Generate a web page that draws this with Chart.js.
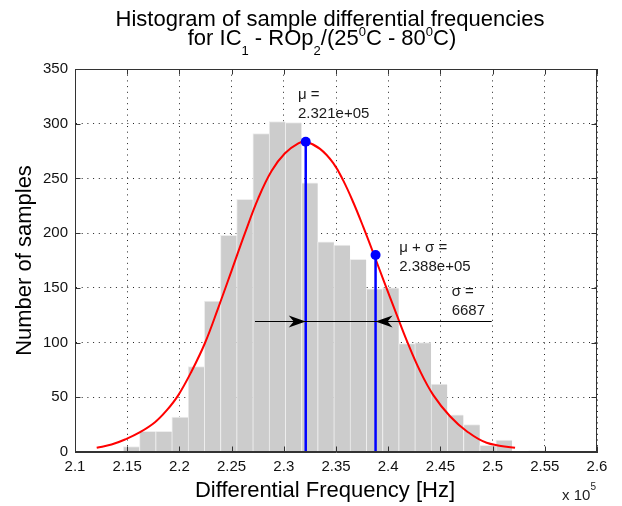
<!DOCTYPE html>
<html>
<head>
<meta charset="utf-8">
<script src="https://cdn.jsdelivr.net/npm/chart.js@4.4.0/dist/chart.umd.min.js"></script>
<style>
  html, body { margin: 0; padding: 0; background: #fff; }
</style>
</head>
<body>
<canvas id="histChart" width="622" height="506"></canvas>
<script>
// x values are in units of 1e5 Hz (axis shows "x 10^5")
const binCenters = [2.1540, 2.1695, 2.1850, 2.2005, 2.2161, 2.2316, 2.2471, 2.2626, 2.2781, 2.2937,
                    2.3092, 2.3247, 2.3402, 2.3557, 2.3712, 2.3868, 2.4023, 2.4178, 2.4333, 2.4488,
                    2.4643, 2.4799, 2.4954, 2.5109, 2.5264, 2.5419];
const binCounts = [5, 19, 19, 32, 78, 138, 198, 231, 291, 302,
                   301, 246, 192, 189, 176, 149, 150, 99, 100, 62,
                   34, 25, 6, 11, 0, 1];

// fitted normal curve
const curveX = [2.1208, 2.1350, 2.1479, 2.1623, 2.1766, 2.1878, 2.1990, 2.2118, 2.2245, 2.2373,
                2.2501, 2.2628, 2.2756, 2.2884, 2.3011, 2.3139, 2.3210, 2.3347, 2.3474, 2.3570,
                2.3666, 2.3762, 2.3864, 2.3953, 2.4081, 2.4177, 2.4305, 2.4432, 2.4592, 2.4752,
                2.4943, 2.5215];
const curveY = [3.8, 6.8, 11.4, 18.1, 27.2, 38, 52, 74, 99.6, 132,
                166, 200, 232, 257, 273, 282, 283.5, 277, 264, 248,
                228, 205.5, 180.2, 157.5, 125.5, 102, 74, 52, 32.7, 19,
                8.4, 3.8];

const meanX = 2.321, meanY = 283.5;
const sigmaX = 2.3879, sigmaY = 180;
const arrowY = 120, arrowFrom = 2.2724, arrowTo = 2.4991;

const xTickLabels = ['2.1', '2.15', '2.2', '2.25', '2.3', '2.35', '2.4', '2.45', '2.5', '2.55', '2.6'];
const yTickLabels = ['0', '50', '100', '150', '200', '250', '300', '350'];

// text notes: anchor = left edge / baseline of the last line
const notes = [
  { x: 2.3136, y: 305, lines: ['\u03bc =', '2.321e+05'] },
  { x: 2.4106, y: 165, lines: ['\u03bc + \u03c3 =', '2.388e+05'] },
  { x: 2.4608, y: 125.5, lines: ['\u03c3 =', '6687'] }
];

const FONT = "'Liberation Sans', Arial, Helvetica, sans-serif";

function drawRuns(ctx, runs, cx, baseline) {
  const widths = runs.map(r => {
    ctx.font = `${r.size}px ${FONT}`;
    return ctx.measureText(r.text).width;
  });
  let x = cx - widths.reduce((s, w) => s + w, 0) / 2;
  runs.forEach((r, i) => {
    ctx.font = `${r.size}px ${FONT}`;
    ctx.fillText(r.text, x, baseline + (r.shift || 0));
    x += widths[i];
  });
}

function drawHead(ctx, tipX, tipY, dir) {
  ctx.beginPath();
  ctx.moveTo(tipX, tipY);
  ctx.lineTo(tipX - dir * 17, tipY - 6);
  ctx.lineTo(tipX - dir * 12, tipY);
  ctx.lineTo(tipX - dir * 17, tipY + 6);
  ctx.closePath();
  ctx.fill();
}

const decorPlugin = {
  id: 'decor',
  afterDatasetsDraw(chart) {
    const { ctx, chartArea: a, scales: { x, y } } = chart;
    ctx.save();

    // sigma arrow
    const ay = Math.round(y.getPixelForValue(arrowY)) + 0.5;
    ctx.strokeStyle = '#000';
    ctx.fillStyle = '#000';
    ctx.lineWidth = 1.2;
    ctx.beginPath();
    ctx.moveTo(x.getPixelForValue(arrowFrom), ay);
    ctx.lineTo(x.getPixelForValue(arrowTo), ay);
    ctx.stroke();
    drawHead(ctx, x.getPixelForValue(meanX), ay, 1);
    drawHead(ctx, x.getPixelForValue(sigmaX), ay, -1);

    // notes
    ctx.fillStyle = '#1a1a1a';
    ctx.font = `15px ${FONT}`;
    ctx.textAlign = 'left';
    ctx.textBaseline = 'alphabetic';
    notes.forEach(n => {
      const px = x.getPixelForValue(n.x);
      const py = y.getPixelForValue(n.y);
      n.lines.forEach((t, i) => ctx.fillText(t, px, py - (n.lines.length - 1 - i) * 19));
    });

    // box and inward tick marks
    const L = Math.round(a.left) + 0.5, R = Math.round(a.right) - 0.5;
    const T = Math.round(a.top) + 0.5, B = Math.round(a.bottom) - 0.5;
    ctx.strokeStyle = '#333';
    ctx.lineWidth = 1;
    ctx.strokeRect(L, T, R - L, B - T);
    ctx.beginPath();
    x.ticks.forEach(t => {
      const px = Math.round(x.getPixelForValue(t.value)) + 0.5;
      ctx.moveTo(px, B); ctx.lineTo(px, B - 5);
      ctx.moveTo(px, T); ctx.lineTo(px, T + 5);
    });
    y.ticks.forEach(t => {
      const py = Math.round(y.getPixelForValue(t.value)) + 0.5;
      ctx.moveTo(L, py); ctx.lineTo(L + 5, py);
      ctx.moveTo(R, py); ctx.lineTo(R - 5, py);
    });
    ctx.stroke();
    ctx.restore();
  },
  afterDraw(chart) {
    const { ctx } = chart;
    ctx.save();
    ctx.fillStyle = '#000';
    ctx.textAlign = 'left';
    ctx.textBaseline = 'alphabetic';

    // title with sub/superscripts
    drawRuns(ctx, [{ text: 'Histogram of sample differential frequencies', size: 22 }], 330, 26);
    drawRuns(ctx, [
      { text: 'for IC', size: 22 },
      { text: '1', size: 13, shift: 10 },
      { text: ' - ROp', size: 22 },
      { text: '2', size: 13, shift: 10 },
      { text: '/(25', size: 22 },
      { text: '0', size: 13, shift: -9 },
      { text: 'C - 80', size: 22 },
      { text: '0', size: 13, shift: -9 },
      { text: 'C)', size: 22 }
    ], 322, 45);

    // x axis label and exponent
    drawRuns(ctx, [{ text: 'Differential Frequency [Hz]', size: 22 }], 325, 497);
    ctx.fillStyle = '#222';
    drawRuns(ctx, [{ text: 'x 10', size: 15 }, { text: '5', size: 10, shift: -10 }], 579, 500);
    ctx.restore();
  }
};

const ctx = document.getElementById('histChart');

new Chart(ctx, {
  type: 'bar',
  data: {
    datasets: [
      {
        type: 'line',
        label: 'mean',
        data: [{ x: meanX, y: 0 }, { x: meanX, y: meanY }],
        borderColor: '#0000ff',
        backgroundColor: '#0000ff',
        borderWidth: 2.5,
        pointRadius: [0, 5],
        pointBorderWidth: 0,
        order: 0
      },
      {
        type: 'line',
        label: 'mean + sigma',
        data: [{ x: sigmaX, y: 0 }, { x: sigmaX, y: sigmaY }],
        borderColor: '#0000ff',
        backgroundColor: '#0000ff',
        borderWidth: 2.5,
        pointRadius: [0, 5],
        pointBorderWidth: 0,
        order: 0
      },
      {
        type: 'line',
        label: 'normal fit',
        data: curveX.map((v, i) => ({ x: v, y: curveY[i] })),
        borderColor: '#ff0000',
        borderWidth: 2,
        pointRadius: 0,
        tension: 0.4,
        order: 1
      },
      {
        type: 'bar',
        label: 'samples',
        data: binCenters.map((v, i) => ({ x: v, y: binCounts[i] })),
        backgroundColor: '#cccccc',
        borderColor: '#eeeeee',
        borderWidth: { top: 1, left: 1, right: 0, bottom: 0 },
        borderSkipped: false,
        barPercentage: 1,
        categoryPercentage: 1,
        grouped: false,
        order: 2
      }
    ]
  },
  options: {
    responsive: false,
    devicePixelRatio: 1,
    animation: false,
    layout: { padding: { top: 69, right: 25, left: 0, bottom: 0 } },
    plugins: {
      legend: { display: false },
      tooltip: { enabled: false },
      title: { display: false }
    },
    scales: {
      x: {
        type: 'linear',
        min: 2.1,
        max: 2.6,
        offset: false,
        afterFit: s => { s.height = 54; },
        grid: { color: '#222', lineWidth: 1, drawTicks: false, offset: false },
        border: { display: true, color: '#333', dash: [1, 4.7] },
        ticks: {
          stepSize: 0.05,
          autoSkip: false,
          maxRotation: 0,
          padding: 6,
          color: '#111',
          font: { family: FONT, size: 15 },
          callback: (v, i) => xTickLabels[i]
        }
      },
      y: {
        min: 0,
        max: 350,
        afterFit: s => { s.width = 75; },
        grid: { color: '#222', lineWidth: 1, drawTicks: false },
        border: { display: true, color: '#333', dash: [1, 4.7] },
        ticks: {
          stepSize: 50,
          padding: 7,
          color: '#111',
          font: { family: FONT, size: 15 },
          callback: (v, i) => yTickLabels[i]
        },
        title: {
          display: true,
          text: 'Number of samples',
          color: '#000',
          font: { family: FONT, size: 22 },
          padding: { top: 12, bottom: 0 }
        }
      }
    }
  },
  plugins: [decorPlugin]
});
</script>
</body>
</html>
